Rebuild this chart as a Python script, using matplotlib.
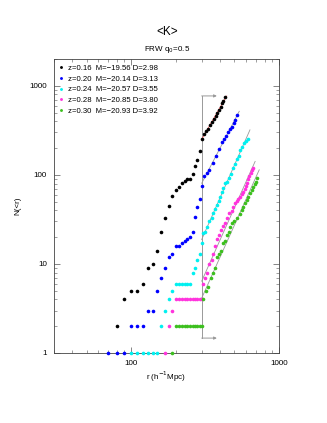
import numpy as np
import matplotlib
matplotlib.use("Agg")
import matplotlib.pyplot as plt

plt.rcParams["font.family"] = ["Liberation Sans", "DejaVu Sans"]

# counts N(<r), one series per redshift slice
r_k16 = [80, 90, 100, 110, 120, 130, 140, 150, 160, 170, 180, 190, 200, 210, 220, 230, 240, 250,
         260, 270, 280, 290, 300, 311, 321, 331, 342, 353, 364, 375, 383, 395, 408, 414, 421, 430]
n_k16 = [2, 4, 5, 5, 6, 9, 10, 14, 23, 33, 45, 58, 68, 73, 81, 85, 90, 91,
         103, 126, 146, 185, 250, 289, 310, 331, 362, 394, 429, 460, 501, 537, 585, 640, 684, 746]

r_k20 = [70, 80, 90, 100, 110, 120, 130, 140, 150, 160, 170, 180, 190, 200, 210, 220, 230, 240,
         250, 260, 270, 280, 290, 300, 311, 324, 338, 360, 375, 391, 412, 425, 438, 452, 467, 481,
         496, 507, 523]
n_k20 = [1, 1, 1, 2, 2, 2, 3, 3, 5, 7, 9, 12, 13, 16, 16, 17, 18, 19,
         20, 23, 34, 44, 54, 75, 96, 106, 112, 137, 161, 194, 237, 252, 274, 304, 326, 349,
         381, 415, 476]

r_k24 = [100, 110, 120, 130, 140, 150, 160, 170, 180, 190, 200, 210, 220, 230, 240, 250, 261, 271,
         281, 293, 300, 308, 318, 328, 338, 351, 360, 371, 383, 391, 399, 412, 421, 434, 448, 462,
         472, 487, 502, 518, 534, 545, 562, 580, 598, 618]
n_k24 = [1, 1, 1, 1, 1, 1, 2, 3, 4, 5, 6, 6, 6, 6, 6, 6, 8, 9,
         11, 13, 17, 22, 23, 26, 30, 33, 37, 41, 46, 51, 57, 65, 71, 81, 84, 92,
         103, 119, 133, 150, 163, 191, 208, 227, 243, 252]

r_k28 = [170, 180, 190, 200, 210, 220, 230, 240, 250, 260, 270, 280, 290, 300, 305, 316, 328,
         338, 351, 360, 371, 383, 395, 408, 421, 431, 443, 462, 478, 491, 504, 518, 531, 545,
         562, 574, 586, 598, 611, 621, 630, 644, 658, 670]
n_k28 = [1, 2, 3, 4, 4, 4, 4, 4, 4, 4, 4, 4, 4, 4, 6, 7, 8,
         10, 11, 13, 16, 19, 21, 24, 27, 29, 33, 37, 39, 44, 48, 51, 54, 57,
         61, 64, 70, 75, 81, 90, 97, 105, 112, 118]

r_k30 = [190, 200, 210, 220, 230, 240, 250, 260, 270, 280, 290, 300, 305, 321, 331, 346, 356,
         368, 379, 391, 404, 417, 430, 443, 457, 467, 481, 496, 518, 545, 559, 574, 586, 605,
         621, 637, 654, 670, 685, 699, 714]
n_k30 = [1, 2, 2, 2, 2, 2, 2, 2, 2, 2, 2, 2, 4, 5, 5.5, 7, 8,
         9, 12, 13, 14, 17, 18, 21, 23, 26, 29, 30, 33, 36, 40, 44, 48, 52,
         56, 62, 68, 74, 79, 84, 92]

labels = ["z=0.16  M=\u221219.56 D=2.98",
          "z=0.20  M=\u221220.14 D=3.13",
          "z=0.24  M=\u221220.57 D=3.55",
          "z=0.28  M=\u221220.85 D=3.80",
          "z=0.30  M=\u221220.93 D=3.92"]
colors = ["black", "#0000ff", "#00f0f0", "#ff33dd", "#3cbf1e"]
fit_colors = ["#ff5a5a", "#999999", "#999999", "#999999", "#999999"]
r_cut = 300

series = [(r_k16, n_k16), (r_k20, n_k20), (r_k24, n_k24), (r_k28, n_k28), (r_k30, n_k30)]

fig = plt.figure(figsize=(3.27, 4.23), dpi=100)
ax = fig.add_axes([0.165, 0.1655, 0.688, 0.695])
ax.set_xscale("log")
ax.set_yscale("log")
ax.set_xlim(30, 1000)
ax.set_ylim(1, 2000)

# cut line with arrows
n_lo, n_hi, r_arrow = 1.47, 770, 380
ax.plot([r_cut, r_cut], [n_lo, n_hi], color="#999999", lw=0.7)
for n in (n_lo, n_hi):
    ax.annotate("", xy=(r_arrow, n), xytext=(r_cut, n),
                arrowprops=dict(arrowstyle="-|>", color="#999999", lw=0.7,
                                mutation_scale=4, shrinkA=0, shrinkB=0))

handles = []
for (r, n), c, fc, lab in zip(series, colors, fit_colors, labels):
    r = np.array(r, float)
    n = np.array(n, float)
    sel = r >= r_cut
    p = np.polyfit(np.log10(r[sel]), np.log10(n[sel]), 1)
    rr = np.array([r_cut, r[sel].max() * 1.03])
    ax.plot(rr, 10 ** np.polyval(p, np.log10(rr)), color=fc, lw=0.6, zorder=2)
    h, = ax.plot(r, n, "o", color=c, ms=2.6, mew=0, clip_on=False, zorder=3, label=lab)
    handles.append(h)

ax.legend(handles=handles, loc="upper left", frameon=False, fontsize=5.6,
          handlelength=0.5, handletextpad=0.6, labelspacing=0.42,
          borderaxespad=0.3, markerscale=0.8)

ax.tick_params(which="both", direction="in", top=True, right=True, labelsize=5.8,
               color="#555555", pad=5)
ax.tick_params(which="major", length=4, width=0.5)
ax.tick_params(which="minor", length=2, width=0.4)
ax.set_xticks([100, 1000])
ax.set_xticklabels(["100", "1000"])
ax.set_yticks([1, 10, 100, 1000])
ax.set_yticklabels(["1", "10", "100", "1000"])
for s in ax.spines.values():
    s.set_linewidth(0.6)
    s.set_color("#444444")

ax.set_xlabel("r (h$^{-1}$Mpc)", fontsize=5.8, labelpad=2)
ax.set_ylabel("N(<r)", fontsize=5.8, labelpad=6)
fig.text(0.51, 0.924, "<K>", ha="center", va="center", fontsize=8.5)
fig.text(0.51, 0.884, "FRW q$_0$=0.5", ha="center", va="center", fontsize=5.8)

fig.savefig("out.png", dpi=100)
